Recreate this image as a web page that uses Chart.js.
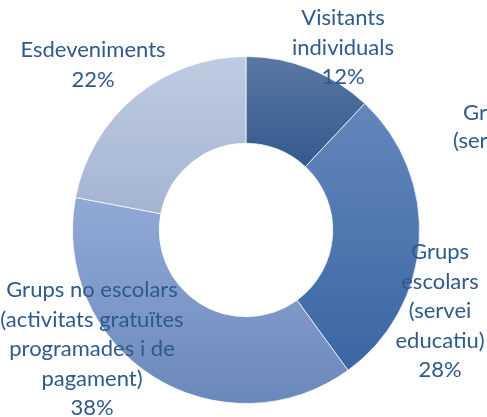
<!DOCTYPE html>
<html>
<head>
<meta charset="utf-8">
<script src="https://cdn.jsdelivr.net/npm/chart.js@4/dist/chart.umd.min.js"></script>
<style>
  html, body { margin: 0; padding: 0; background: #fff; }
  #wrap { width: 487px; height: 417px; position: relative; }
</style>
</head>
<body>
<div id="wrap"><canvas id="donut"></canvas></div>
<script>
// Data
const labels = [
    ['Visitants', 'individuals'],
    ['Grups', 'escolars', '(servei', 'educatiu)'],
    ['Grups no escolars', '(activitats gratuïtes', 'programades i de', 'pagament)'],
    ['Esdeveniments']
];
const values = [12, 28, 38, 22];
const percentLabels = ['12%', '28%', '38%', '22%'];
// leftover label cut by the right edge in the original
const strayLabel = ['Grups', '(servei'];

// Slice fills: top and bottom of each slice's gradient
const topColors = ['#5a78a3', '#6387bc', '#91a9d5', '#bfcbe2'];
const bottomColors = ['#33598d', '#3a66a3', '#6b88bc', '#a4b4d1'];
const textColor = '#2e5a8c';
const fontFamily = 'Lato, "Open Sans", sans-serif';

// label anchor (center x, first line center y) per slice
const labelPos = [
    { x: 343, y: 18 },
    { x: 440, y: 252 },
    { x: 92, y: 290 },
    { x: 93, y: 50 }
];
const lineHeight = 29.5;

function sliceYRange(chart, i) {
    const area = chart.chartArea;
    const cy = (area.top + area.bottom) / 2;
    const R = Math.min(area.right - area.left, area.bottom - area.top) / 2;
    const r = R * 0.5;
    const total = values.reduce((a, b) => a + b, 0);
    let start = 0;
    for (let k = 0; k < i; k++) start += values[k] / total * Math.PI * 2;
    const end = start + values[i] / total * Math.PI * 2;
    let minY = Infinity, maxY = -Infinity;
    for (let s = 0; s <= 60; s++) {
        const a = start + (end - start) * s / 60;
        [R, r].forEach(rad => {
            const y = cy - rad * Math.cos(a);
            minY = Math.min(minY, y);
            maxY = Math.max(maxY, y);
        });
    }
    return [minY, maxY];
}

const labelPlugin = {
    id: 'sliceLabels',
    afterDatasetsDraw(chart) {
        const ctx = chart.ctx;
        ctx.save();
        ctx.fillStyle = textColor;
        ctx.font = '22px ' + fontFamily;
        ctx.textAlign = 'center';
        ctx.textBaseline = 'middle';
        labels.forEach((lines, i) => {
            const all = lines.concat([percentLabels[i]]);
            all.forEach((t, j) => {
                ctx.fillText(t, labelPos[i].x, labelPos[i].y + j * lineHeight);
            });
        });
        ctx.textAlign = 'left';
        ctx.fillText(strayLabel[0], 463, 113);
        ctx.fillText(strayLabel[1], 453, 141);
        ctx.restore();
    }
};

new Chart(document.getElementById('donut'), {
    type: 'doughnut',
    data: {
        labels: labels.map(l => l.join(' ')),
        datasets: [{
            data: values,
            backgroundColor: function (context) {
                const chart = context.chart;
                const i = context.dataIndex;
                if (!chart.chartArea || i === undefined) return topColors[i || 0];
                const [y0, y1] = sliceYRange(chart, i);
                const g = chart.ctx.createLinearGradient(0, y0, 0, y1);
                g.addColorStop(0, topColors[i]);
                g.addColorStop(1, bottomColors[i]);
                return g;
            },
            borderColor: 'rgba(255,255,255,0.7)',
            borderWidth: 1
        }]
    },
    options: {
        responsive: true,
        maintainAspectRatio: false,
        animation: false,
        cutout: '50%',
        layout: {
            padding: { left: 5, right: 0, top: 56, bottom: 13 }
        },
        plugins: {
            legend: { display: false },
            tooltip: { enabled: false }
        }
    },
    plugins: [labelPlugin]
});
</script>
</body>
</html>
